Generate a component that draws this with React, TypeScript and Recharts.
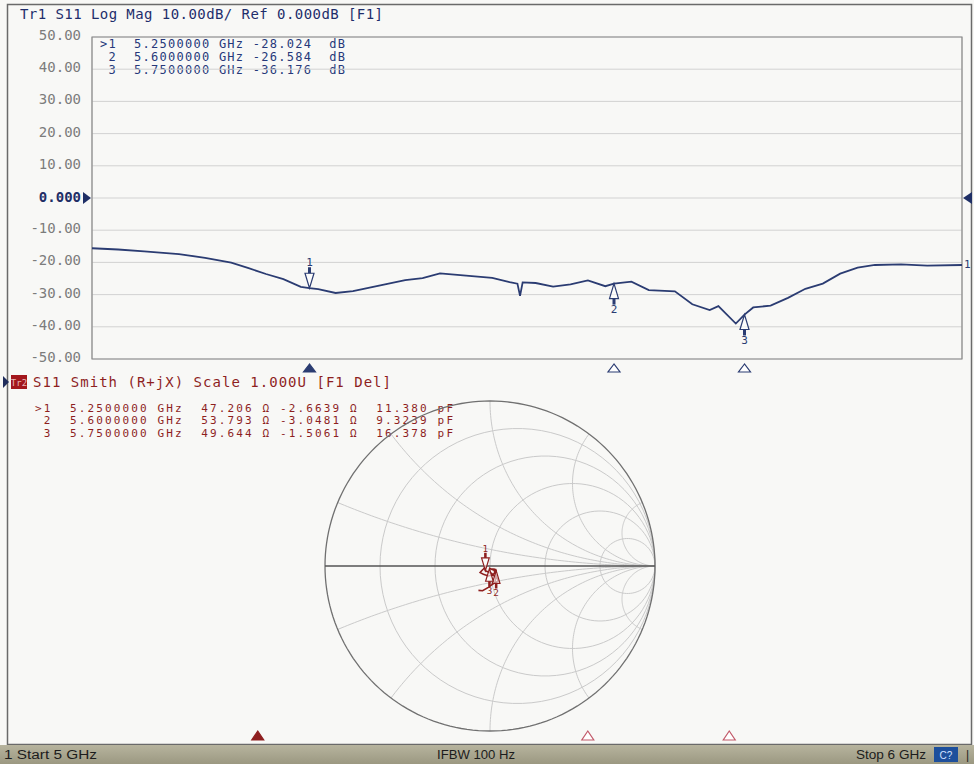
import React from 'react'
import {
  LineChart, ComposedChart, ScatterChart, Line, Scatter, XAxis, YAxis, CartesianGrid,
  ReferenceDot, ReferenceArea, ReferenceLine,
} from 'recharts'

// Tr1: S11 log mag trace
const FREQ_GHZ = [
  5.0, 5.03, 5.06, 5.1, 5.13, 5.16, 5.18, 5.2, 5.22, 5.24, 5.25, 5.26, 5.28, 5.3, 5.33,
  5.36, 5.38, 5.4, 5.43, 5.46, 5.48, 5.489, 5.492, 5.495, 5.51, 5.53, 5.55, 5.57, 5.59,
  5.6, 5.62, 5.64, 5.67, 5.69, 5.71, 5.72, 5.74, 5.75, 5.76, 5.78, 5.8, 5.82, 5.84, 5.86,
  5.88, 5.9, 5.93, 5.96, 6.0,
]
const S11_DB = [
  -15.6, -16.0, -16.6, -17.4, -18.6, -20.1, -21.8, -23.6, -25.2, -27.6, -28.0, -28.3, -29.5,
  -28.9, -27.2, -25.5, -24.9, -23.4, -24.1, -24.8, -26.1, -26.6, -30.4, -26.2, -26.4, -27.5,
  -26.8, -25.6, -27.4, -26.6, -26.0, -28.6, -29.0, -33.0, -34.8, -33.6, -39.0, -36.2, -34.0,
  -33.4, -31.0, -28.2, -26.6, -23.5, -21.6, -20.8, -20.6, -21.0, -20.8,
]

// markers (same for both traces)
const MARKER_ID = ['>1', '2', '3']
const MARKER_FREQ = [5.25, 5.6, 5.75]
const MARKER_DB = [-28.024, -26.584, -36.176]
const MARKER_R = [47.206, 53.793, 49.644]
const MARKER_X = [-2.6639, -3.0481, -1.5061]
const MARKER_PF = [11.38, 9.3239, 16.378]

// Tr2: smith trace, reflection coefficient (re, im)
const SMITH_RE = [
  -0.07, -0.045, -0.01, 0.03, 0.035, 0.01, -0.028, -0.031, -0.04, -0.052, -0.06, -0.04,
  -0.01, 0.02, 0.037, 0.03, 0.006, -0.003, 0.01, 0.025, 0.04, 0.05, 0.035, 0.03,
]
const SMITH_IM = [
  -0.148, -0.15, -0.13, -0.1, -0.07, -0.045, -0.028, -0.008, -0.018, -0.03, -0.04, -0.05,
  -0.06, -0.052, -0.028, -0.02, -0.017, -0.015, -0.02, -0.026, -0.067, -0.09, -0.1, -0.085,
]

const DB_TICKS = [50, 40, 30, 20, 10, 0, -10, -20, -30, -40, -50]
const FREQ_TICKS = [5, 5.1, 5.2, 5.3, 5.4, 5.5, 5.6, 5.7, 5.8, 5.9, 6]
const SMITH_GRID_R = [0.2, 0.5, 1, 2, 5]
const SMITH_GRID_X = [0.2, 0.5, 1, 2, 5]

const NAVY = '#2b3c72'
const RED = '#8e1f1f'
const MONO = '"DejaVu Sans Mono", monospace'

const logMagData = FREQ_GHZ.map((f, i) => ({ f, db: S11_DB[i] }))
const smithData = SMITH_RE.map((x, i) => ({ x, y: SMITH_IM[i] }))

const gamma = (R: number, X: number) => {
  const a = R / 50, b = X / 50
  const den = (a + 1) * (a + 1) + b * b
  return { x: ((a - 1) * (a + 1) + b * b) / den, y: (b * (a + 1) - (a - 1) * b) / den }
}
const smithMarkers = MARKER_R.map((r, i) => gamma(r, MARKER_X[i]))

// smith chart grid curves
const arc = (cx: number, cy: number, rad: number, a0: number, a1: number, n = 90) =>
  Array.from({ length: n + 1 }, (_, i) => {
    const a = a0 + ((a1 - a0) * i) / n
    return { x: cx + rad * Math.cos(a), y: cy + rad * Math.sin(a) }
  })

const gridCurves = [
  ...SMITH_GRID_R.map((r) => arc(r / (1 + r), 0, 1 / (1 + r), 0, 2 * Math.PI)),
  ...SMITH_GRID_X.flatMap((x) => {
    let end = Math.atan2((x * x - 1) / (x * (x * x + 1)), -2 / (x * x + 1))
    if (end < 0) end += 2 * Math.PI
    const top = arc(1, 1 / x, 1 / x, 1.5 * Math.PI, end)
    return [top, top.map((p) => ({ x: p.x, y: -p.y }))]
  }),
]
const outerCircle = arc(0, 0, 1, 0, 2 * Math.PI, 180)

const DbTick = (props: any) => {
  const { x, y, payload } = props
  const v = payload.value
  if (v === 0) {
    return (
      <g>
        <text x={x - 11} y={y - 1} textAnchor="end" dominantBaseline="central" fontFamily={MONO} fontSize={14} fontWeight="bold" fill="#1f2f66">0.000</text>
        <polygon points={`${x - 9},${y - 6} ${x - 9},${y + 6} ${x - 1},${y}`} fill="#1f2f66" />
      </g>
    )
  }
  return (
    <text x={x - 11} y={y - 2} textAnchor="end" dominantBaseline="central" fontFamily={MONO} fontSize={14} fill="#7c7c7c">
      {v.toFixed(2)}
    </text>
  )
}

// marker pin: above the point pointing down, or below pointing up
const pin = (label: string, above: boolean, color: string, k = 1) => (props: any) => {
  const { cx, cy } = props
  const s = above ? -1 : 1
  return (
    <g>
      <polygon points={`${cx - 4.5 * k},${cy + s * 15 * k} ${cx + 4.5 * k},${cy + s * 15 * k} ${cx},${cy}`} fill="#fff" fillOpacity={0.6} stroke={color} strokeWidth={1.2} />
      <line x1={cx} y1={cy + s * 15 * k} x2={cx} y2={cy + s * 21 * k} stroke={color} strokeWidth={3 * k} />
      <text x={cx} y={cy + s * 26 * k} textAnchor="middle" dominantBaseline="central" fontFamily={MONO} fontSize={11 * k} fill={color}>{label}</text>
    </g>
  )
}

const axisTri = (filled: boolean) => (props: any) => {
  const { cx, cy } = props
  return (
    <polygon points={`${cx},${cy + 5} ${cx - 6},${cy + 13} ${cx + 6},${cy + 13}`} fill={filled ? NAVY : '#fff'} stroke={NAVY} strokeWidth={1.2} />
  )
}

const StripTri = (props: any) => {
  const { cx, cy, index } = props
  const filled = index === 0
  return (
    <polygon points={`${cx},${cy - 7} ${cx - 6},${cy + 2} ${cx + 6},${cy + 2}`} fill={filled ? RED : '#fff'} stroke={filled ? RED : '#c25a6a'} strokeWidth={1.2} />
  )
}

const topRows = MARKER_ID.map((id, i) =>
  `${id.padStart(2)}  ${MARKER_FREQ[i].toFixed(7)} GHz ${MARKER_DB[i].toFixed(3)}  dB`)
const smithRows = MARKER_ID.map((id, i) =>
  `${id.padStart(2)}  ${MARKER_FREQ[i].toFixed(7)} GHz  ${MARKER_R[i].toFixed(3)} Ω ${MARKER_X[i].toFixed(4)} Ω  ${MARKER_PF[i].toPrecision(5)} pF`)

const Overlay = () => (
  <svg width={974} height={764} style={{ position: 'absolute', left: 0, top: 0 }}>
    <defs>
      <linearGradient id="bar" x1="0" y1="0" x2="0" y2="1">
        <stop offset="0" stopColor="#b7b49e" />
        <stop offset="1" stopColor="#9b9881" />
      </linearGradient>
    </defs>
    <rect x={7.5} y={4.5} width={964} height={740} fill="none" stroke="#6a6a6a" strokeWidth={1.5} />
    <text x={20} y={19} textLength={363} lengthAdjust="spacing" fontFamily={MONO} fontSize={14} fill="#1e2d6b" style={{ whiteSpace: 'pre' }}>
      Tr1 S11 Log Mag 10.00dB/ Ref 0.000dB [F1]
    </text>
    {topRows.map((r, i) => (
      <text key={i} x={100} y={47.5 + i * 13} textLength={245} lengthAdjust="spacing" fontFamily={MONO} fontSize={12} fill="#26387a" style={{ whiteSpace: 'pre' }}>{r}</text>
    ))}
    <polygon points="3,376 3,388 9,382" fill="#1f2d5c" />
    <rect x={11} y={375} width={16} height={14} fill="#a3171c" />
    <text x={19} y={385.5} textAnchor="middle" fontFamily={MONO} fontSize={9} fill="#e9b7b7">Tr2</text>
    <text x={33} y={387} textLength={358} lengthAdjust="spacing" fontFamily={MONO} fontSize={14} fill={RED} style={{ whiteSpace: 'pre' }}>
      S11 Smith (R+jX) Scale 1.000U [F1 Del]
    </text>
    {smithRows.map((r, i) => (
      <text key={i} x={35} y={411.5 + i * 12.5} textLength={418} lengthAdjust="spacing" fontFamily={MONO} fontSize={11} fill={RED} style={{ whiteSpace: 'pre' }}>{r}</text>
    ))}
    <rect x={0} y={745} width={974} height={19} fill="url(#bar)" />
    <text x={4} y={759} textLength={93} lengthAdjust="spacingAndGlyphs" fontFamily="Liberation Sans, sans-serif" fontSize={12} fill="#1c1c1c">1  Start 5 GHz</text>
    <text x={437} y={759} textLength={78} lengthAdjust="spacingAndGlyphs" fontFamily="Liberation Sans, sans-serif" fontSize={12} fill="#1c1c1c">IFBW 100 Hz</text>
    <text x={856} y={759} textLength={70} lengthAdjust="spacingAndGlyphs" fontFamily="Liberation Sans, sans-serif" fontSize={12} fill="#1c1c1c">Stop 6 GHz</text>
    <rect x={934} y={747} width={24} height={15} fill="#1d4f9c" />
    <text x={946} y={758.5} textAnchor="middle" fontFamily="Liberation Sans, sans-serif" fontSize={10} fill="#cfe0ff">C?</text>
    <text x={966} y={759} fontFamily="Liberation Sans, sans-serif" fontSize={12} fill="#1c1c1c">|</text>
  </svg>
)

export default function App() {
  return (
    <div style={{ position: 'absolute', left: 0, top: 0, width: 974, height: 764, background: '#f8f8f6', overflow: 'hidden' }}>
      <Overlay />

      <div style={{ position: 'absolute', left: 0, top: 0 }}>
        <LineChart width={974} height={380} data={logMagData} margin={{ top: 37, right: 12, bottom: 21, left: 12 }}>
          <CartesianGrid stroke="#d2d2d2" strokeWidth={1} />
          <XAxis dataKey="f" type="number" domain={[5, 6]} ticks={FREQ_TICKS} height={0} tick={false} axisLine={false} tickLine={false} />
          <YAxis type="number" domain={[-50, 50]} ticks={DB_TICKS} interval={0} width={80} axisLine={false} tickLine={false} tickSize={0} tickMargin={0} tick={<DbTick />} />
          <ReferenceArea x1={5} x2={6} y1={-50} y2={50} fill="none" stroke="#8a8a8a" strokeWidth={1.2} ifOverflow="visible" />
          <Line type="linear" dataKey="db" stroke={NAVY} strokeWidth={1.8} dot={false} isAnimationActive={false} />
          {MARKER_FREQ.map((f, i) => (
            <ReferenceDot key={'m' + i} x={f} y={MARKER_DB[i]} ifOverflow="visible" shape={pin(String(i + 1), i === 0, NAVY)} />
          ))}
          {MARKER_FREQ.map((f, i) => (
            <ReferenceDot key={'t' + i} x={f} y={-50} ifOverflow="visible" shape={axisTri(i === 0)} />
          ))}
          <ReferenceDot x={6} y={0} ifOverflow="visible" shape={(p: any) => (
            <polygon points={`${p.cx + 1},${p.cy} ${p.cx + 10},${p.cy - 6} ${p.cx + 10},${p.cy + 6}`} fill="#1f2f66" />
          )} />
          <ReferenceDot x={6} y={S11_DB[S11_DB.length - 1]} ifOverflow="visible" shape={(p: any) => (
            <text x={p.cx + 2} y={p.cy} dominantBaseline="central" fontFamily={MONO} fontSize={11} fill={NAVY}>1</text>
          )} />
        </LineChart>
      </div>

      <div style={{ position: 'absolute', left: 315, top: 391 }}>
        <ComposedChart width={350} height={350} margin={{ top: 10, right: 10, bottom: 10, left: 10 }}>
          <XAxis dataKey="x" type="number" domain={[-1, 1]} hide />
          <YAxis dataKey="y" type="number" domain={[-1, 1]} hide />
          {gridCurves.map((c, i) => (
            <Line key={i} data={c} dataKey="y" type="linear" stroke="#cacaca" strokeWidth={1} dot={false} isAnimationActive={false} />
          ))}
          <Line data={outerCircle} dataKey="y" type="linear" stroke="#707070" strokeWidth={1.3} dot={false} isAnimationActive={false} />
          <ReferenceLine y={0} stroke="#555" strokeWidth={1.3} />
          <Line data={smithData} dataKey="y" type="linear" stroke={RED} strokeWidth={1.6} dot={false} isAnimationActive={false} />
          {smithMarkers.map((g, i) => (
            <ReferenceDot key={i} x={g.x} y={g.y} ifOverflow="visible" shape={pin(String(i + 1), i === 0, RED, 0.85)} />
          ))}
        </ComposedChart>
      </div>

      <div style={{ position: 'absolute', left: 0, top: 726 }}>
        <ScatterChart width={974} height={24} margin={{ top: 2, right: 9, bottom: 2, left: 22 }}>
          <XAxis dataKey="f" type="number" domain={[5, 6]} hide />
          <YAxis dataKey="y" type="number" domain={[0, 1]} hide />
          <Scatter data={MARKER_FREQ.map((f) => ({ f, y: 0.5 }))} shape={<StripTri />} isAnimationActive={false} />
        </ScatterChart>
      </div>
    </div>
  )
}
